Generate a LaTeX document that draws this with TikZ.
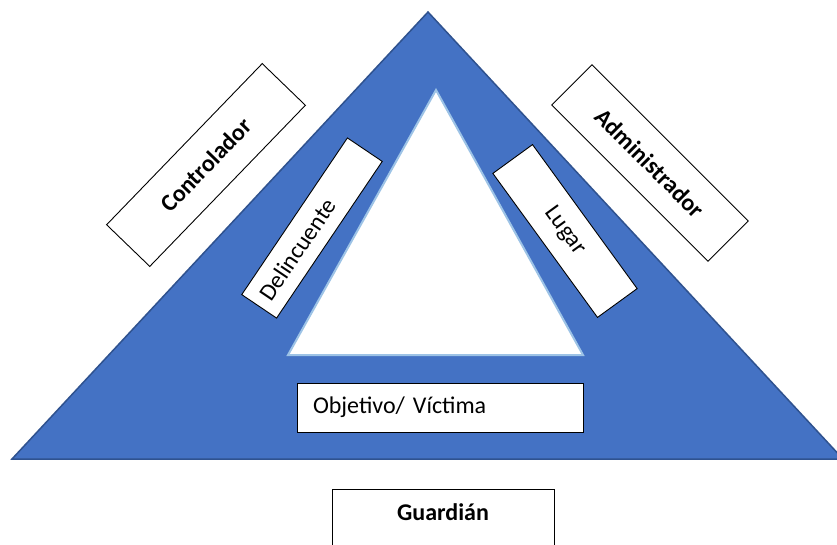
\documentclass[tikz,border=0pt]{standalone}
\usepackage{fontspec}
\setmainfont{Carlito}
\definecolor{triblue}{RGB}{68,114,196}
\definecolor{triedge}{RGB}{47,82,143}
\definecolor{inneredge}{RGB}{157,195,230}
\tikzset{
  tag-box/.style={
    draw=black,
    fill=white,
    line width=0.9pt,
    inner sep=0pt,
    font=\fontsize{24}{28}\selectfont
  },
  tag-bold/.style={
    tag-box,
    font=\fontsize{24}{28}\selectfont\bfseries
  }
}

\begin{document}
\begin{tikzpicture}[x=1pt,y=-1pt]
  \useasboundingbox (0,0) rectangle (837,544);
  \fill[white] (0,0) rectangle (837,544);
  \filldraw[fill=triblue, draw=triedge, line width=1.5pt]
    (428,12) -- (843,459) -- (12,459) -- cycle;
  \filldraw[fill=white, draw=inneredge, line width=2pt]
    (436,90) -- (583,355) -- (288,355) -- cycle;
  \node[tag-bold, rotate=46, minimum width=224pt, minimum height=60pt]
    (ctrl) at (206,165) {Controlador};
  \node[tag-bold, rotate=-45, minimum width=221pt, minimum height=57pt]
    (admin) at (650,163) {Administrador};
  \node[tag-box, rotate=56, minimum height=42pt, inner xsep=10pt,
    text width=169pt, align=left]
    (delinc) at (312,228) {Delincuente};
  \node[tag-box, rotate=-54, minimum width=178pt, minimum height=49pt]
    (lugar) at (565,231) {Lugar};
  \node[tag-box, minimum height=49pt, inner xsep=16pt, text width=254pt,
    align=left]
    (obj) at (440,407.5) {Objetivo/ Víctima};
  \node[tag-bold, anchor=north, minimum width=222pt, inner ysep=6pt,
    text height=25pt, text depth=30pt]
    (guard) at (443,489) {Guardián};
\end{tikzpicture}
\end{document}
